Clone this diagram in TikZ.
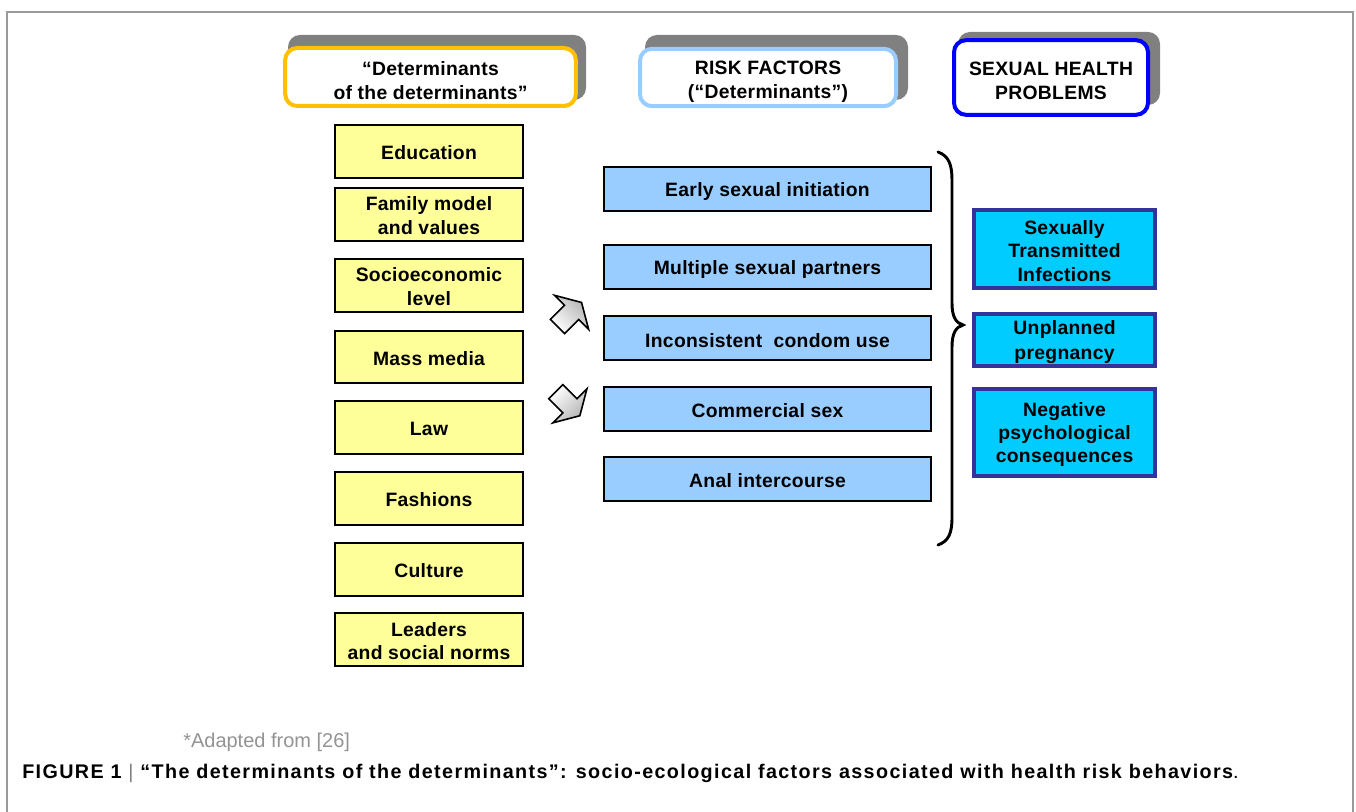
\documentclass[tikz,border=0pt]{standalone}
\usepackage{fontspec}
\setmainfont{Liberation Sans}
\newfontfamily\boxfont[LetterSpace=1.5]{Liberation Sans}
\newfontfamily\capfont[LetterSpace=7]{Liberation Sans}
\newcommand\liftto[1]{\rule{0pt}{#1}}
\definecolor{yfill}{HTML}{FFFF99}
\definecolor{bfill}{HTML}{99CCFF}
\definecolor{cfill}{HTML}{00CCFF}
\definecolor{cdraw}{HTML}{333399}
\definecolor{hgold}{HTML}{FFC000}
\definecolor{hlight}{HTML}{99CCFF}
\definecolor{hblue}{HTML}{0000FF}
\definecolor{shadowgray}{HTML}{808080}
\definecolor{framegray}{HTML}{9A9A9A}
\begin{document}
\begin{tikzpicture}[x=0.75pt,y=-0.75pt,
  txt/.style={font=\boxfont\bfseries\fontsize{14.5}{17.5}\selectfont, align=center, inner sep=0pt},
  ybox/.style={txt, draw=black, fill=yfill, line width=1.5pt, minimum width=141pt, minimum height=39.5pt},
  bbox/.style={txt, draw=black, fill=bfill, line width=1.5pt, minimum width=245pt, minimum height=33pt},
  cbox/.style={txt, draw=cdraw, fill=cfill, line width=3pt, minimum width=136pt},
  hbox/.style={txt, fill=white, line width=3pt, rounded corners=9pt},
  hshadow/.style={fill=shadowgray, rounded corners=9pt},
  blockarrow/.style={draw=black, line width=1.2pt, line join=miter, left color=white, right color=gray!60},
  bracestyle/.style={draw=black, line width=2.2pt, line cap=round}
]
\useasboundingbox (0,0) rectangle (1356,812);
% frame
\draw[framegray, line width=1.5pt] (7,812) -- (7,12) -- (1353,12) -- (1353,812);

% header shadows
\fill[hshadow] (288,35) rectangle (586,100);
\fill[hshadow] (645,35) rectangle (908,100);
\fill[hshadow] (958,32) rectangle (1160,105);

% headers
\node[hbox, draw=hgold, minimum width=218pt, minimum height=43.5pt] (h1) at (430.5,77) {\liftto{16pt}“Determinants\\of the determinants”};
\node[hbox, draw=hlight, minimum width=192pt, minimum height=43pt] (h2) at (768,77.5) {\liftto{16.5pt}RISK FACTORS\\(“Determinants”)};
\node[hbox, draw=hblue, minimum width=145.5pt, minimum height=56pt] (h3) at (1051,77.5) {\liftto{15pt}SEXUAL HEALTH\\PROBLEMS};

% determinants of determinants
\node[ybox] (y1) at (429,151.5) {\liftto{12pt}Education};
\node[ybox] (y2) at (429,214.5) {\liftto{12pt}Family model\\and values};
\node[ybox] (y3) at (429,285.5) {\liftto{12pt}Socioeconomic\\level};
\node[ybox] (y4) at (429,357) {\liftto{12.5pt}Mass media};
\node[ybox] (y5) at (429,427.5) {\liftto{12pt}Law};
\node[ybox] (y6) at (429,498.5) {\liftto{12pt}Fashions};
\node[ybox] (y7) at (429,569.5) {\liftto{12pt}Culture};
\node[ybox] (y8) at (429,639.5) {\liftto{12.5pt}Leaders\\and social norms};

% risk factors
\node[bbox] (b1) at (767.5,189) {\liftto{14.5pt}Early sexual initiation};
\node[bbox] (b2) at (767.5,267.5) {\liftto{14pt}Multiple sexual partners};
\node[bbox] (b3) at (767.5,338) {\liftto{14pt}Inconsistent\ \ condom use};
\node[bbox] (b4) at (767.5,409) {\liftto{13.5pt}Commercial sex};
\node[bbox] (b5) at (767.5,479) {\liftto{13.5pt}Anal intercourse};

% sexual health problems
\node[cbox, minimum height=58.5pt] (c1) at (1064.5,249) {\liftto{13.5pt}Sexually\\Transmitted\\Infections};
\node[cbox, minimum height=39pt] (c2) at (1064.5,340) {\liftto{14pt}Unplanned\\[1pt]pregnancy};
\node[cbox, minimum height=65pt] (c3) at (1064.5,432.5) {\liftto{13.5pt}Negative\\psychological\\consequences};

% block arrows
\begin{scope}[shift={(557.5,326.5)}, rotate=45]
  \path[blockarrow, shading angle=135] (0,-10) -- (20,-10) -- (20,-24) -- (34,0) -- (20,24) -- (20,10) -- (0,10) -- cycle;
\end{scope}
\begin{scope}[shift={(555.8,391.7)}, rotate=-45]
  \path[blockarrow, shading angle=45] (0,-10) -- (20,-10) -- (20,-24) -- (34,0) -- (20,24) -- (20,10) -- (0,10) -- cycle;
\end{scope}

% brace
\path[bracestyle] (938,152) .. controls (949,156) and (952,165) .. (952,180) -- (952,303)
  .. controls (952,317) and (956,323) .. (963,325)
  .. controls (956,327) and (952,333) .. (952,347) -- (952,517)
  .. controls (952,533) and (949,541) .. (938,545);

% notes
\node[anchor=base west, inner sep=0pt, text=gray!85, font=\fontsize{15}{18}\selectfont] (note) at (183,747) {*Adapted from [26]};
\node[anchor=base west, inner sep=0pt, font=\capfont\bfseries\fontsize{14.8}{17}\selectfont] (cap) at (22,778) {FIGURE 1 {\mdseries\color{gray}|} “The determinants of the determinants”: socio-ecological factors associated with health risk behaviors{\mdseries .}};
\end{tikzpicture}
\end{document}
